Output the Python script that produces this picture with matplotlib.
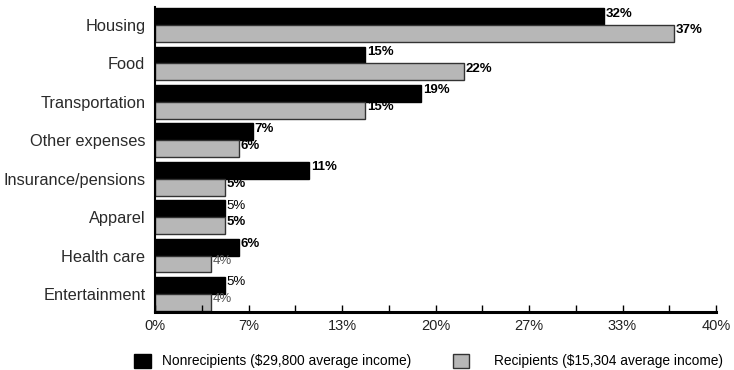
import matplotlib.pyplot as plt
import numpy as np
from matplotlib.patches import Patch
from matplotlib.ticker import MultipleLocator, FuncFormatter

categories = ["Housing", "Food", "Transportation", "Other expenses",
              "Insurance/pensions", "Apparel", "Health care", "Entertainment"]
nonrecipients = [32, 15, 19, 7, 11, 5, 6, 5]
recipients = [37, 22, 15, 6, 5, 5, 4, 4]
legend_labels = ["Nonrecipients ($29,800 average income)",
                 "Recipients ($15,304 average income)"]

# label styles as in the original (some bold, small ones grey)
non_weight = ["bold"] * 5 + ["normal", "bold", "normal"]
rec_weight = ["bold"] * 6 + ["normal", "normal"]
rec_color = ["black"] * 6 + ["#555555", "#555555"]

sans = ["Liberation Sans", "DejaVu Sans"]

fig = plt.figure(figsize=(7.34, 3.7), dpi=100)
ax = fig.add_axes([155 / 734, 58 / 370, 561 / 734, 305 / 370])

y = -np.arange(len(categories))
h = 0.44
ax.barh(y + h / 2, nonrecipients, height=h, color="black", edgecolor="black", linewidth=1)
ax.barh(y - h / 2, recipients, height=h, color="#b7b7b7", edgecolor="#333333", linewidth=1)

for i in range(len(categories)):
    ax.text(nonrecipients[i] + 0.12, y[i] + h / 2 + 0.08, f"{nonrecipients[i]}%",
            va="center", ha="left", fontsize=9.5, family=sans,
            fontweight=non_weight[i], color="black")
    ax.text(recipients[i] + 0.12, y[i] - h / 2 + 0.08, f"{recipients[i]}%",
            va="center", ha="left", fontsize=9.5, family=sans,
            fontweight=rec_weight[i], color=rec_color[i])

ax.set_xlim(0, 40)
ax.set_ylim(-7.47, 0.47)
ax.set_yticks(y)
ax.set_yticklabels(categories, fontsize=11.8, family=sans, color="#2a2a2a")
ax.tick_params(axis="y", length=0, pad=7)

ax.xaxis.set_major_locator(MultipleLocator(40 / 6))
ax.xaxis.set_minor_locator(MultipleLocator(40 / 12))
ax.xaxis.set_major_formatter(FuncFormatter(lambda v, p: f"{v:.0f}%"))
ax.tick_params(axis="x", which="both", direction="in", length=5, width=1, pad=5)
for lab in ax.get_xticklabels():
    lab.set_family(sans)
    lab.set_fontsize(10.5)
    lab.set_color("#222222")

for s in ["top", "right"]:
    ax.spines[s].set_visible(False)
ax.spines["bottom"].set_linewidth(2.2)
ax.spines["left"].set_linewidth(1.5)

# two separate legend entries, spaced as in the original
handles = [Patch(facecolor="black", edgecolor="black"),
           Patch(facecolor="#b7b7b7", edgecolor="#333333")]
anchors = [134 / 734, 453 / 734]
pads = [0.8, 1.75]
for hd, lab, xa, pad in zip(handles, legend_labels, anchors, pads):
    fig.legend([hd], [lab], loc="center left", bbox_to_anchor=(xa, 1 - 361 / 370),
               frameon=False, prop={"family": sans, "size": 9.9},
               borderpad=0, borderaxespad=0,
               handlelength=1.2, handleheight=1.2, handletextpad=pad)

fig.savefig("out.png", dpi=100)
